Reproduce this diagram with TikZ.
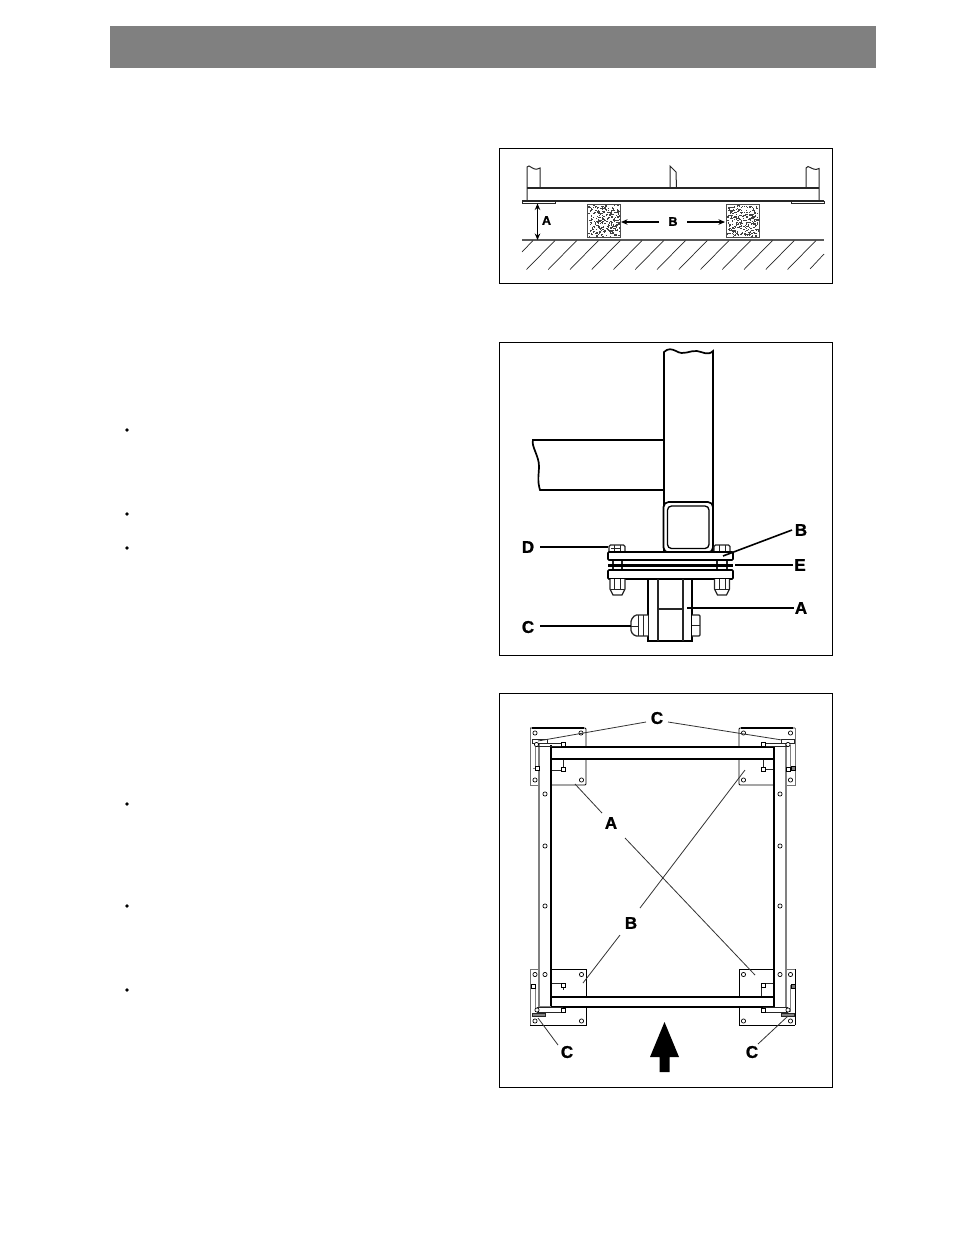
\documentclass[tikz,border=0pt]{standalone}
\usepackage{fontspec}
\setmainfont{Liberation Sans}
\newfontfamily\lblfont[FakeBold=1.2]{Liberation Sans Bold}
\usetikzlibrary{arrows.meta}
\definecolor{band}{HTML}{808080}
\tikzset{
 frameb/.style={draw=black,line width=1.1pt},
 ln/.style={draw=black!85,line width=1pt},
 hv/.style={draw=black,line width=1.7pt},
 thn/.style={draw=black!85,line width=.7pt},
 plate/.style={draw=black,line width=.9pt},
 plategray/.style={draw=black!55,line width=.8pt},
 lead/.style={draw=black,line width=1.6pt},
 leadthin/.style={draw=black!80,line width=.8pt},
 grayln/.style={draw=black!50,line width=1.1pt},
 lblS/.style={font=\lblfont\fontsize{12.5}{13}\selectfont,inner sep=0pt},
 lblL/.style={font=\lblfont\fontsize{17}{18}\selectfont,inner sep=0pt},
 hole/.style={draw=black,line width=.7pt,fill=white,circle,inner sep=0pt,minimum size=4.2pt},
 sq/.style={draw=black,line width=.8pt,fill=white,inner sep=0pt,minimum size=3.8pt},
 sqg/.style={draw=black,line width=.8pt,fill=black!50,inner sep=0pt,minimum size=3.8pt},
 dim/.style={draw=black,line width=1.3pt,{Stealth[length=6.5pt,width=5.5pt]}-{Stealth[length=6.5pt,width=5.5pt]}},
 ptr/.style={draw=black,line width=1.3pt,-{Stealth[length=6.5pt,width=5.5pt]}},
 bullet/.style={circle,fill=black,inner sep=0pt,minimum size=3.8pt},
}
\begin{document}
\begin{tikzpicture}[x=1pt,y=-1pt]
\useasboundingbox (0,0) rectangle (954,1235);
\fill[band] (110,26) rectangle (876,68);
\foreach \y in {430,514,548,804,906,990} \node[bullet] at (127,\y) {};
%% Panel 1
\draw[frameb] (499.5,148.5) rectangle (832.5,283.5);
\draw[ln] (527,201) -- (527,167) -- (529,166) .. controls (533,168) and (535,171) .. (540,168) -- (540,188);
\draw[ln] (670,188) -- (670,166) -- (676,172) -- (676.5,188);
\draw[ln] (806,188) -- (806,168) -- (808,166.5) .. controls (812,168) and (815,171) .. (819,168.5) -- (819,201);
\draw[ln,line width=1.2pt] (527,188) -- (819,188);
\draw[ln,line width=1.2pt] (522,201) -- (824,201);
\draw[thn,fill=white] (522,201) rectangle (555,203.5);
\draw[thn,fill=white] (791,201) rectangle (824,203.5);
\draw[draw=black!65,line width=1.2pt] (522,240) -- (824,240);
\foreach \i in {0,...,12} {
  \pgfmathsetmacro\xa{555+21.75*\i}
  \draw[thn] (\xa,240.5) -- ++(-28.5,29);
}
\draw[thn] (533,240.5) -- (522,252);
\draw[thn] (824,254) -- (810,269);
\draw[draw=black!70,line width=.8pt,fill=white] (587,204) rectangle (620,237);
\draw[draw=black!70,line width=.8pt,fill=white] (726,204) rectangle (759,237);
\pgfmathsetseed{4711}
\foreach \i in {1,...,300} {
  \pgfmathsetmacro\dx{rnd*31}\pgfmathsetmacro\dy{rnd*31}
  \fill[black!75] (588+\dx,205+\dy) rectangle ++(1.3,1.1);
  \pgfmathsetmacro\ex{rnd*31}\pgfmathsetmacro\ey{rnd*31}
  \fill[black!75] (727+\ex,205+\ey) rectangle ++(1.3,1.1);
}
\coordinate (pa1) at (537.5,203.5); \coordinate (pa2) at (537.5,240);
\draw[dim] (pa1) -- (pa2);
\node[lblS] (la) at (546.5,220.5) {A};
\node[lblS] (lb) at (673,221.5) {B};
\coordinate (pb1) at (621,222); \coordinate (pb2) at (725,222);
\draw[ptr] (659,222) -- (pb1);
\draw[ptr] (687,222) -- (pb2);
%% Panel 2
\draw[frameb] (499.5,342.5) rectangle (832.5,655.5);
\draw[hv] (664,552) -- (664,352) .. controls (668,348) and (672,349) .. (676,351) .. controls (684,356) and (690,350) .. (697,351) .. controls (703,352) and (708,356) .. (713,351) -- (713,552);
\draw[hv] (664,440) -- (533,440) .. controls (531,446) and (539,456) .. (539,466) .. controls (539,474) and (537,480) .. (540,490) -- (664,490);
\draw[hv,fill=white,rounded corners=5pt] (663.5,502) rectangle (713,552.5);
\draw[hv,line width=1.3pt,rounded corners=4pt] (667.5,506) rectangle (709,548.5);
% bolts top
\draw[ln,line width=1.3pt,fill=white,rounded corners=1.5pt] (609,552) -- (609,545) -- (625,545) -- (625,552);
\draw[thn] (614,545) -- (614,552) (620,545) -- (620,552) (611,548) -- (621,548);
\draw[ln,line width=1.3pt,fill=white,rounded corners=1.5pt] (714,552) -- (714,545) -- (730,545) -- (730,552);
\draw[thn] (719,545) -- (719,552) (725,545) -- (725,552);
% shanks
\draw[ln,line width=1.2pt] (613,560) -- (613,570) (622,560) -- (622,570) (717,560) -- (717,570) (727,560) -- (727,570);
% flanges
\draw[hv,fill=white,rounded corners=1pt] (608,552) rectangle (733,560);
\draw[line width=3pt] (608,565) -- (733,565);
\draw[hv,fill=white,rounded corners=1pt] (608,570) rectangle (733,579);
% bottom nuts
\foreach \x in {610,714.5} {
 \draw[ln,line width=1.3pt,fill=white] (\x,579) -- (\x,589) -- (\x+3,595) -- (\x+12,595) -- (\x+15,589) -- (\x+15,579);
 \draw[thn] (\x,589) -- (\x+15,589) (\x+4.5,579) -- (\x+4.5,589) (\x+10.5,579) -- (\x+10.5,589);
}
% post
\draw[hv] (648,579) -- (648,641) -- (692,641) -- (692,579);
\draw[ln,line width=1.3pt] (658,579) -- (658,641) (683,579) -- (683,641) (658,609) -- (683,609);
\draw[ln,line width=1.3pt,fill=white,rounded corners=1.5pt] (648,615) -- (635,615) -- (631,620) -- (631,632) -- (635,636) -- (648,636);
\draw[thn] (638,615) -- (638,636) (631,626) -- (638,626) (643,615) -- (643,636);
\draw[ln,line width=1.3pt,fill=white,rounded corners=1pt] (692,615) -- (700,615) -- (700,636) -- (692,636);
\draw[thn] (692,625.5) -- (700,625.5);
% labels
\node[lblL] (d) at (528,547) {D};
\node[lblL] (b2) at (801,530) {B};
\node[lblL] (e) at (800,565) {E};
\node[lblL] (a2) at (801,608) {A};
\node[lblL] (c2) at (528,627) {C};
\coordinate (dt) at (608,547); \coordinate (bt) at (723,556);
\coordinate (et) at (735,565); \coordinate (at) at (687,608); \coordinate (ct) at (631,626);
\draw[lead] (d.east)+(6,0) -- (dt);
\draw[lead] (792,530) -- (bt);
\draw[lead] (e.west)+(-1,0) -- (et);
\draw[lead] (a2.west)+(-1,0) -- (at);
\draw[lead] (c2.east)+(6,-1) -- (ct);
%% Panel 3
\draw[frameb] (499.5,693.5) rectangle (832.5,1087.5);
% plates
\draw[plategray] (539,785) -- (530,785) -- (530,728);
\draw[plate,rounded corners=1pt] (530,728) -- (586,728) -- (586,785) -- (551,785);
\draw[line width=1.6pt] (532,728) -- (584,728);
\draw[plate,rounded corners=1pt] (774,785) -- (739,785) -- (739,728) -- (795,728);
\draw[plategray] (795,728) -- (795,785) -- (786,785);
\draw[line width=1.6pt] (741,728) -- (793,728);
\draw[plategray] (539,969) -- (530,969) -- (530,1025);
\draw[plate] (530,1025) -- (586,1025) -- (586,969) -- (551,969);
\draw[plate] (774,969) -- (739,969) -- (739,1025) -- (795,1025);
\draw[plate] (795,1025) -- (795,969);
\draw[plategray] (795,969) -- (786,969);
% tube slots
\draw[thn] (551,770) -- (563,770) -- (563,757) (763,757) -- (763,769) -- (774,769);
\draw[thn] (551,983) -- (563,983) -- (563,990) (761,997) -- (761,983) -- (774,983);
% tubes
\fill[white] (539,745) rectangle (551,1007);
\fill[white] (774,747) rectangle (786,1007);
\fill[white] (551,747) rectangle (774,759);
\fill[white] (551,997) rectangle (774,1007);
\draw[plate,line width=1.1pt] (551,745) -- (551,1007);
\draw[plate,line width=1.1pt] (774,747) -- (774,1007);
\draw[grayln] (539,744) -- (539,1007) -- (551,1007);
\draw[grayln] (786,744) -- (786,1007);
\draw[plate,line width=1.1pt] (551,747) -- (774,747) (551,759) -- (774,759) (551,997) -- (774,997) (551,1007) -- (774,1007);
% brackets top left
\draw[thn] (537,743) -- (563,743) (537,746) -- (563,746);
\draw[grayln,line width=.8pt] (535,745) -- (535,768) (533,768) -- (538,768);
\draw[thn,fill=white] (532,739) rectangle (547,743);
\node[sq] (s1) at (537,768) {};
\node[sq] (s2) at (563,744.5) {};
\node[sq] (s3) at (563,769) {};
\node[hole] (s4) at (536.5,744.5) {};
% brackets top right
\draw[thn] (763,743) -- (788,743) (763,746) -- (788,746);
\draw[grayln,line width=.8pt] (790,745) -- (790,768);
\draw[thn,fill=white] (781,739) rectangle (794,743);
\node[sq] (s5) at (763,744.5) {};
\node[sq] (s6) at (763,769) {};
\node[sq] (s7) at (788,769) {};
\node[sqg] (s8) at (793,768) {};
\node[hole] (s9) at (788,744.5) {};
% brackets bottom left
\draw[thn] (537,1007) -- (563,1007) (537,1012) -- (563,1012);
\draw[grayln,line width=.8pt] (535,986) -- (535,1012);
\node[sq] (s10) at (533,986) {};
\node[sq] (s11) at (563,985) {};
\node[sq] (s12) at (563,1010) {};
\node[hole] (s13) at (537,1010) {};
\draw[thn,fill=black!50] (532,1013) rectangle (545,1016);
% brackets bottom right
\draw[thn] (763,1007) -- (788,1007) (763,1012) -- (788,1012);
\draw[grayln,line width=.8pt] (790,985) -- (790,1012);
\node[sq] (s14) at (763,985) {};
\node[sq] (s15) at (763,1010) {};
\node[sqg] (s16) at (793,986) {};
\node[hole] (s17) at (788,1010) {};
\draw[thn,fill=black!50] (781,1013) rectangle (794,1016);
% holes
\foreach \x/\y in {535/733,581/733,535/780,581.5/780,743.5/733,790.5/733,743.5/780,790.5/780,
 535/974.5,581.5/974.5,535/1021,581.5/1021,743.5/974.5,790.5/974.5,743.5/1021,790.5/1021,
 545/794,545/846,545/906,545/974.5,780/794,780/846,780/906,780/974.5}
 \node[hole] at (\x,\y) {};
% arrow
\fill[black] (664.5,1022) -- (679,1057) -- (669.5,1057) -- (669.5,1072) -- (659.5,1072) -- (659.5,1057) -- (650,1057) -- cycle;
% labels
\node[lblL] (ct3) at (657,718) {C};
\node[lblL] (cl3) at (567,1052) {C};
\node[lblL] (cr3) at (752,1052) {C};
\node[lblL] (a3) at (611,823) {A};
\node[lblL] (b3) at (631,923) {B};
\coordinate (c1) at (538,741); \coordinate (c2b) at (782,740);
\coordinate (c3) at (538,1018); \coordinate (c4) at (788,1016);
\coordinate (a31) at (575,784); \coordinate (a32) at (755,975);
\coordinate (b31) at (745,770); \coordinate (b32) at (583,983);
\draw[leadthin] (646,722) -- (c1);
\draw[leadthin] (668,722) -- (c2b);
\draw[leadthin] (558,1045) -- (c3);
\draw[leadthin] (758,1044) -- (c4);
\draw[leadthin] (602,813) -- (a31);
\draw[leadthin] (625,838) -- (a32);
\draw[leadthin] (640,908) -- (b31);
\draw[leadthin] (620,935) -- (b32);
\end{tikzpicture}
\end{document}
